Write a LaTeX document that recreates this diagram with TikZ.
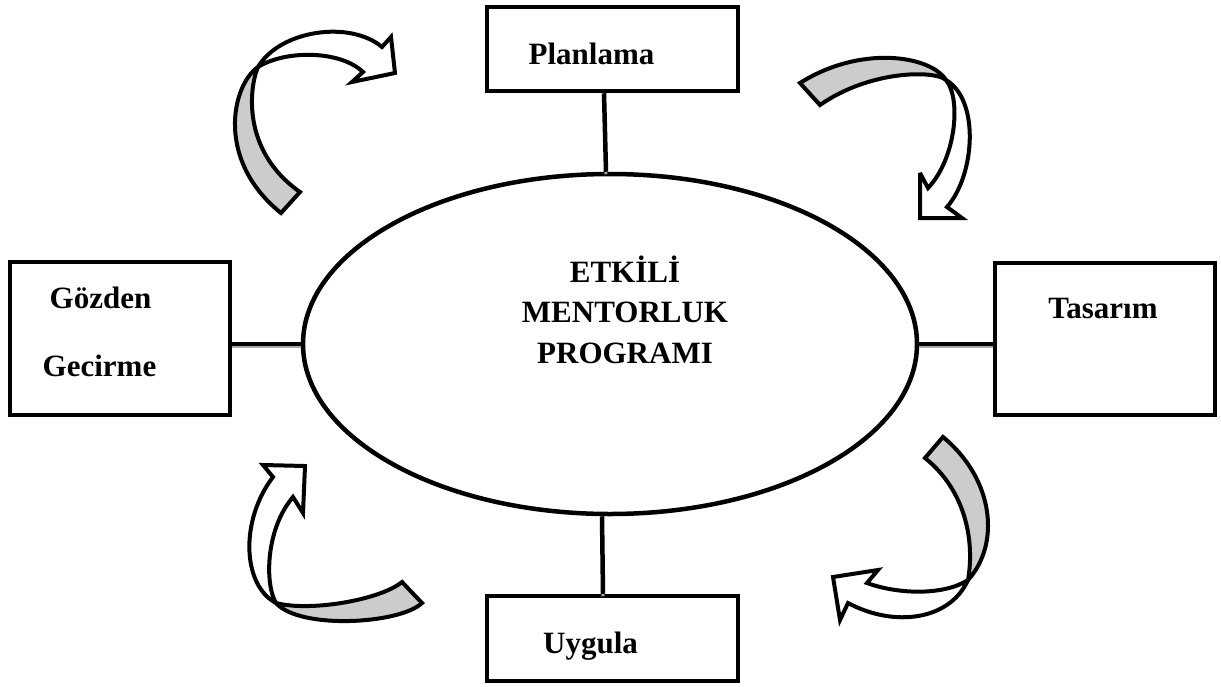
\documentclass[tikz,border=0pt]{standalone}
\usepackage{fontspec}
\setmainfont{Liberation Serif}
\usetikzlibrary{shapes.geometric}
\begin{document}
\begin{tikzpicture}[x=1pt,y=-1pt,
  box/.style={draw, line width=4.5pt, rectangle, inner sep=0pt},
  lbl/.style={font=\fontsize{31}{40.5}\selectfont\bfseries, inner sep=0pt},
  conn/.style={line width=4.5pt, preaction={draw=black!35, line width=3pt, transform canvas={yshift=-2.5pt}}},
  band/.style={draw=black, line width=4pt, line join=miter, miter limit=4},
  back/.style={band, fill=black!20},
  front/.style={band, fill=white}]
\useasboundingbox (0,0) rectangle (1221,686);

% central ellipse and the four stage boxes
\node[draw, ellipse, line width=4.5pt, inner sep=0pt, minimum width=614pt, minimum height=340pt] (ell) at (610,344) {};
\node[box, minimum width=251pt, minimum height=84pt] (plan) at (612.5,49) {};
\node[box, minimum width=220pt, minimum height=153pt] (gz) at (120,338.5) {};
\node[box, minimum width=220pt, minimum height=152pt] (tas) at (1105,339) {};
\node[box, minimum width=251pt, minimum height=85pt] (uyg) at (612.5,638.5) {};

% labels (a multi-line node sits on the baseline of its last line)
\node[lbl, anchor=base, align=center] (ellText) at (625,363) {ETKİLİ\\MENTORLUK\\PROGRAMI};
\node[lbl, anchor=base] (planText) at (591.5,64) {Planlama};
\node[lbl, anchor=base] (gzText1) at (100.5,308) {Gözden};
\node[lbl, anchor=base] (gzText2) at (99.5,376) {Gecirme};
\node[lbl, anchor=base] (tasText) at (1103,318) {Tasarım};
\node[lbl, anchor=base] (uygText) at (590.5,653) {Uygula};

% connectors between the boxes and the ellipse
\draw[conn] ([xshift=-8.5pt]plan.south) -- ([xshift=-4pt]ell.north);
\draw[conn] ([xshift=-9.5pt]uyg.north) -- ([xshift=-8pt]ell.south);
\draw[conn] (gz.east |- ell.west) -- (ell.west);
\draw[conn] (ell.east) -- (ell.east -| tas.west);

% curved arrows: gray back of the ribbon, white front with the head
% top left
\coordinate (t1) at (258,67);
\path[back] (t1) .. controls (232,85) and (215,160) .. (281,213) -- (300,192) .. controls (240,150) and (250,85) .. cycle;
\path[front] (t1) .. controls (280,30) and (350,20) .. (382,47) -- (391,37) -- (395,73) -- (352,82) -- (363,72) .. controls (340,50) and (285,50) .. cycle;
% top right
\coordinate (t2) at (946,80);
\path[back] (t2) .. controls (930,55) and (860,45) .. (800,83) -- (820,105) .. controls (870,70) and (935,70) .. cycle;
\path[front] (t2) .. controls (980,100) and (975,175) .. (947,207) -- (962,218) -- (920,218) -- (920,173) -- (928,188) .. controls (955,160) and (962,100) .. cycle;
% bottom right
\coordinate (t3) at (968,580);
\path[back] (t3) .. controls (1000,545) and (995,480) .. (943,437) -- (925,458) .. controls (965,490) and (975,540) .. cycle;
\path[front] (t3) .. controls (945,595) and (900,595) .. (867,583) -- (878,570) -- (833,577) -- (840,620) -- (848,603) .. controls (895,628) and (950,620) .. cycle;
% bottom left
\coordinate (t4) at (276,603);
\path[back] (t4) .. controls (310,612) and (380,600) .. (402,582) -- (422,603) .. controls (400,624) and (300,630) .. cycle;
\path[front] (t4) .. controls (242,585) and (240,520) .. (273,477) -- (263,465) -- (305,466) -- (303,513) -- (293,497) .. controls (265,530) and (265,585) .. cycle;
\end{tikzpicture}
\end{document}
